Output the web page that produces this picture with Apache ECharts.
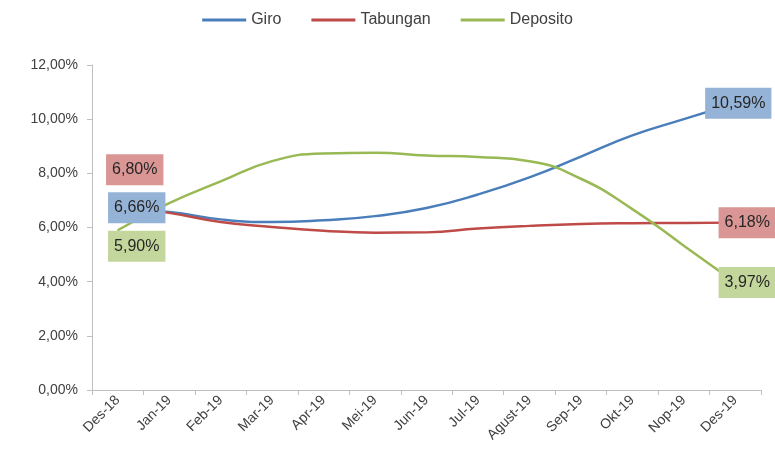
<!DOCTYPE html>
<html>
<head>
<meta charset="utf-8">
<script src="https://cdn.jsdelivr.net/npm/echarts@6/dist/echarts.min.js"></script>
<style>
html,body{margin:0;padding:0;background:#fff;}
#chart{width:775px;height:468px;}
</style>
</head>
<body>
<div id="chart"></div>
<script>
var bulan = ['Des-18','Jan-19','Feb-19','Mar-19','Apr-19','Mei-19','Jun-19','Jul-19','Agust-19','Sep-19','Okt-19','Nop-19','Des-19'];
var giro     = [6.66, 6.57, 6.30, 6.20, 6.27, 6.42, 6.72, 7.22, 7.85, 8.62, 9.40, 10.00, 10.59];
var tabungan = [6.80, 6.54, 6.20, 6.02, 5.88, 5.81, 5.82, 5.96, 6.06, 6.13, 6.16, 6.17, 6.18];
var deposito = [5.90, 6.90, 7.70, 8.45, 8.73, 8.76, 8.66, 8.60, 8.45, 7.80, 6.68, 5.33, 3.97];

var fontName = 'Liberation Sans';

function persen(v){
	return v.toFixed(2).replace('.', ',') + '%';
}

// label hanya di titik pertama dan terakhir
function buat_data(arr, bg, offAwal, offAkhir){
	return arr.map(function(v, i){
		if(i == 0 || i == arr.length - 1){
			return {
				value: v,
				label: {
					show: true,
					position: 'inside',
					offset: i == 0 ? offAwal : offAkhir,
					backgroundColor: bg,
					color: '#262626',
					fontFamily: fontName,
					fontSize: 16,
					padding: [8, 6, 7, 6],
					formatter: function(p){ return persen(p.value); }
				}
			};
		}
		return v;
	});
}

var chart = echarts.init(document.getElementById('chart'));
var option = {
	animation: false,
	legend: {
		top: 7,
		left: 'center',
		itemWidth: 44,
		itemHeight: 3,
		itemGap: 30,
		icon: 'rect',
		textStyle: {color: '#404040', fontSize: 16, fontFamily: fontName},
		data: ['Giro','Tabungan','Deposito']
	},
	grid: {left: 92, right: 14, top: 65, bottom: 78},
	xAxis: {
		type: 'category',
		data: bulan,
		boundaryGap: true,
		axisLine: {lineStyle: {color: '#bfbfbf'}},
		axisTick: {show: true, length: 5, lineStyle: {color: '#bfbfbf'}},
		axisLabel: {rotate: 45, color: '#404040', fontSize: 14, fontFamily: fontName, margin: 8, interval: 0}
	},
	yAxis: {
		type: 'value',
		min: 0,
		max: 12,
		interval: 2,
		splitLine: {show: false},
		axisLine: {show: true, lineStyle: {color: '#bfbfbf'}},
		axisTick: {show: true, length: 5, lineStyle: {color: '#bfbfbf'}},
		axisLabel: {color: '#404040', fontSize: 14, fontFamily: fontName, margin: 14,
			formatter: function(v){ return v.toFixed(2).replace('.', ',') + '%'; }}
	},
	series: [
		{
			name: 'Giro',
			type: 'line',
			smooth: 0.5,
			symbol: 'circle',
			symbolSize: 1,
			color: '#4a7ebb',
			lineStyle: {width: 2.5, color: '#4a7ebb'},
			data: buat_data(giro, '#95b3d7', [19, -2], [3, 0])
		},
		{
			name: 'Tabungan',
			type: 'line',
			smooth: 0.5,
			symbol: 'circle',
			symbolSize: 1,
			color: '#be4b48',
			lineStyle: {width: 2.5, color: '#be4b48'},
			data: buat_data(tabungan, '#d99694', [17, -36], [12, 0])
		},
		{
			name: 'Deposito',
			type: 'line',
			smooth: 0.5,
			symbol: 'circle',
			symbolSize: 1,
			color: '#98b954',
			lineStyle: {width: 2.5, color: '#98b954'},
			data: buat_data(deposito, '#c3d69b', [19, 16], [12, 0])
		}
	]
};
chart.setOption(option);
</script>
</body>
</html>
